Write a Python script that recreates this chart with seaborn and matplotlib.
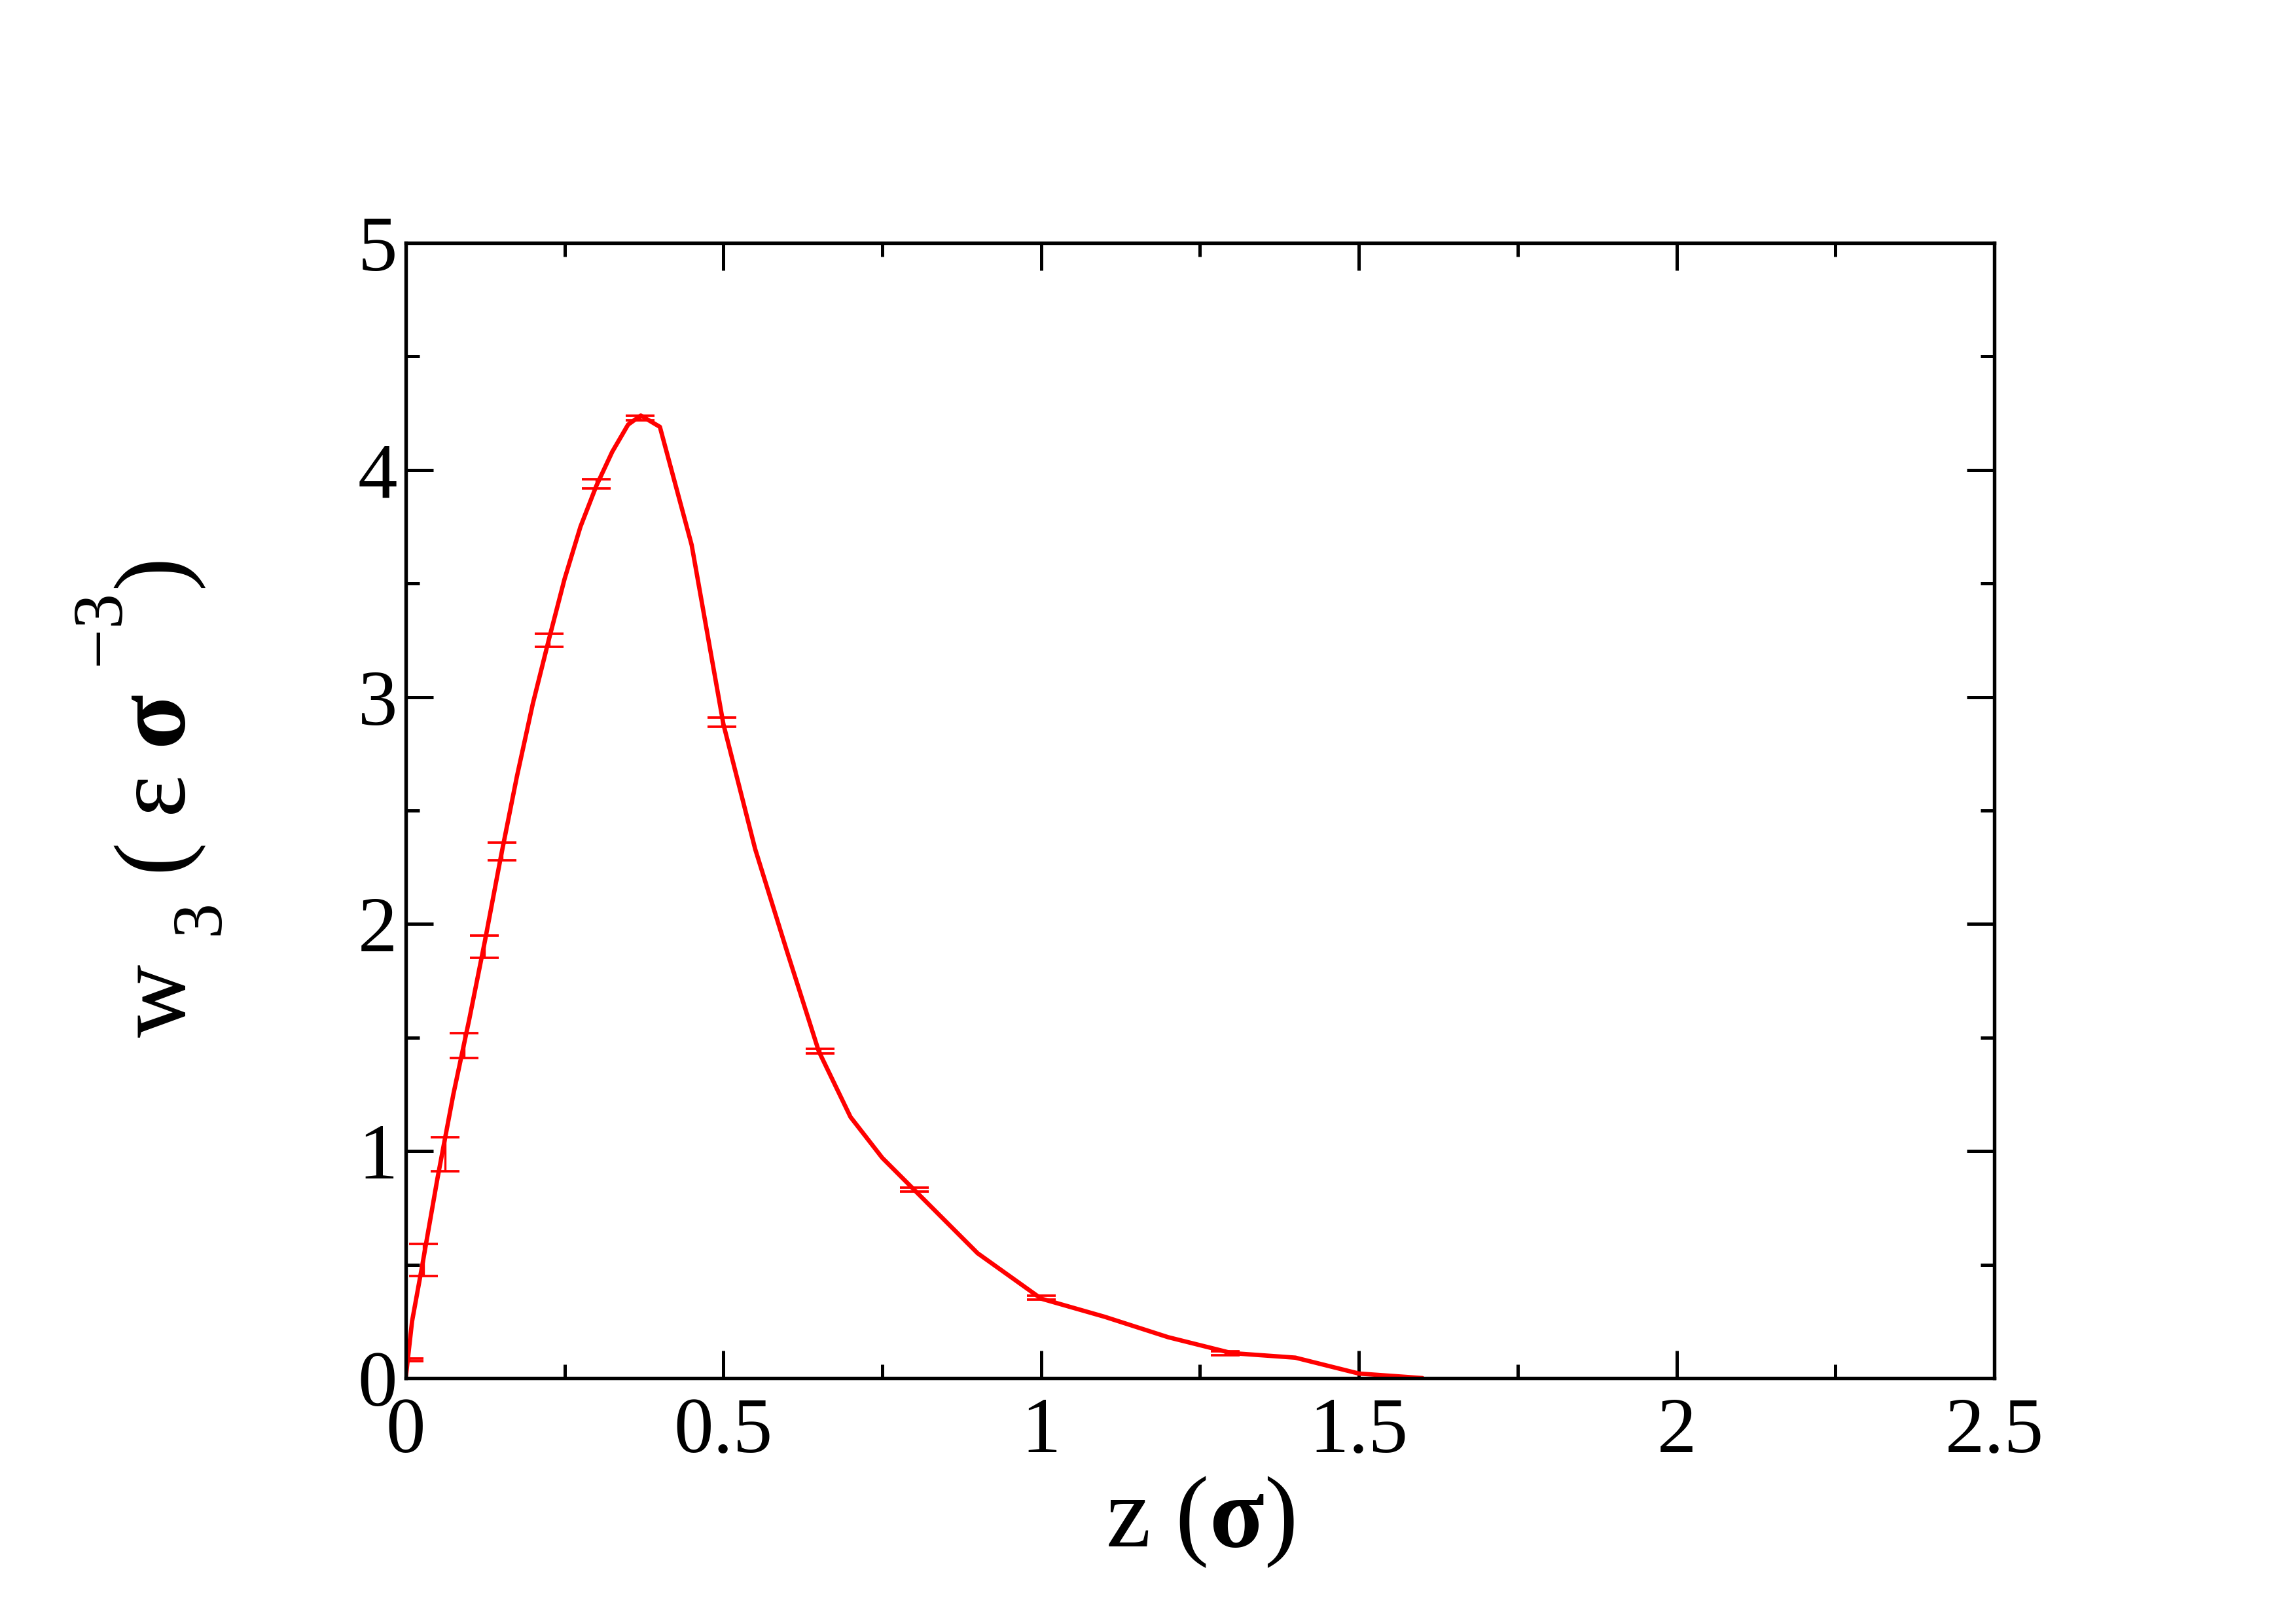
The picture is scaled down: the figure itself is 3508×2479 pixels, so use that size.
import numpy as np
import pandas as pd
import matplotlib
matplotlib.use("Agg")
import matplotlib.pyplot as plt
import seaborn as sns

# curve data
z_line = [0.0, 0.01, 0.025, 0.05, 0.075, 0.1, 0.125, 0.15, 0.175, 0.2, 0.225, 0.25,
          0.275, 0.3, 0.325, 0.35, 0.37, 0.4, 0.45, 0.5, 0.55, 0.6, 0.65, 0.7, 0.75,
          0.8, 0.9, 1.0, 1.1, 1.2, 1.3, 1.4, 1.5, 1.6]
w_line = [0.0, 0.25, 0.48, 0.88, 1.25, 1.58, 1.93, 2.30, 2.65, 2.97, 3.25, 3.52,
          3.75, 3.93, 4.08, 4.20, 4.24, 4.19, 3.67, 2.88, 2.33, 1.88, 1.44, 1.15, 0.97,
          0.83, 0.55, 0.35, 0.27, 0.18, 0.11, 0.09, 0.02, 0.0]

# error-bar data
z_err = [0.005, 0.028, 0.062, 0.092, 0.124, 0.152, 0.226, 0.30, 0.369, 0.498, 0.652, 0.80, 1.0, 1.29]
w_err = [0.08, 0.52, 0.985, 1.465, 1.90, 2.32, 3.25, 3.94, 4.23, 2.89, 1.44, 0.83, 0.355, 0.11]
e_err = [0.005, 0.07, 0.075, 0.055, 0.05, 0.04, 0.03, 0.02, 0.01, 0.02, 0.01, 0.008, 0.008, 0.008]

x_ticks = [0, 0.5, 1, 1.5, 2, 2.5]
x_ticklabels = ["0", "0.5", "1", "1.5", "2", "2.5"]
y_ticks = [0, 1, 2, 3, 4, 5]
y_ticklabels = ["0", "1", "2", "3", "4", "5"]

sns.set_theme(style="white")
plt.rcParams['font.family'] = ['Liberation Serif', 'DejaVu Serif']
plt.rcParams['mathtext.fontset'] = 'custom'
plt.rcParams['mathtext.rm'] = 'Liberation Serif'
plt.rcParams['mathtext.it'] = 'Liberation Serif:italic'
plt.rcParams['mathtext.bf'] = 'Liberation Serif:bold'
for k in ['text.color', 'axes.labelcolor', 'xtick.color', 'ytick.color']:
    plt.rcParams[k] = 'black'

try:
    import matplotlib._mathtext as _mt
    _mt.FontConstantsBase.sup1 = 1.35
    _mt.FontConstantsBase.sub1 = 0.8
    _mt.FontConstantsBase.sub2 = 0.9
except Exception:
    pass

fig = plt.figure(figsize=(3508/300, 2479/300), dpi=300)
ax = fig.add_axes([0.1767, 0.1509, 0.8686-0.1767, 0.8503-0.1509])

df = pd.DataFrame({"z": z_line, "w": w_line})
sns.lineplot(data=df, x="z", y="w", ax=ax, color="#ff0000", linewidth=1.6, sort=False)
ax.errorbar(z_err, w_err, yerr=e_err, fmt="none", ecolor="#ff0000",
            elinewidth=0.8, capsize=5.3, capthick=0.9)

ax.set_xlim(0, 2.5)
ax.set_ylim(0, 5)
ax.set_xticks(x_ticks)
ax.set_xticklabels(x_ticklabels)
ax.set_yticks(y_ticks)
ax.set_yticklabels(y_ticklabels)
ax.set_xticks(np.arange(0.25, 2.5, 0.5), minor=True)
ax.set_yticks(np.arange(0.5, 5, 1.0), minor=True)
ax.tick_params(which="both", direction="in", top=True, right=True, bottom=True, left=True,
               color="black", width=1.2)
ax.tick_params(which="major", length=10)
ax.tick_params(which="minor", length=5)
ax.tick_params(axis="x", which="major", labelsize=29, pad=7)
ax.tick_params(axis="y", which="major", labelsize=29, pad=3)
for s in ax.spines.values():
    s.set_color("black")
    s.set_linewidth(1.3)
ax.grid(False)

ax.set_xlabel(r"z ($\mathbf{σ}$)", fontsize=37)
ax.xaxis.set_label_coords(0.5, -0.085)
ax.set_ylabel(r"w $_{3}$ ( ε $\mathbf{σ}$ $^{-3}$)", fontsize=37)
ax.yaxis.set_label_coords(-0.114, 0.51)

fig.savefig("out.png", dpi=300, facecolor="white")
